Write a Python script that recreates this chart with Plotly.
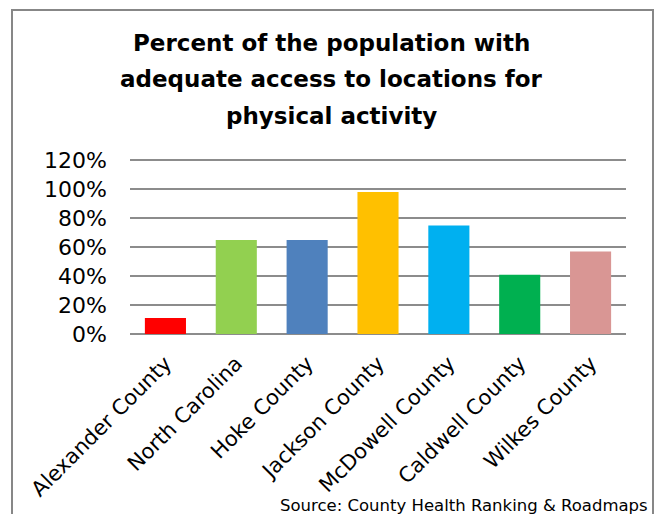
import plotly.graph_objects as go

categories = ["Alexander County", "North Carolina", "Hoke County", "Jackson County",
              "McDowell County", "Caldwell County", "Wilkes County"]
values = [0.11, 0.65, 0.65, 0.98, 0.75, 0.41, 0.57]
colors = ["#FF0000", "#92D050", "#4F81BD", "#FFC000", "#00B0F0", "#00B050", "#D99694"]
tick_vals = [0, 0.2, 0.4, 0.6, 0.8, 1.0, 1.2]
tick_text = ["0%", "20%", "40%", "60%", "80%", "100%", "120%"]
title_lines = ["Percent of the population with",
               "adequate access to locations for",
               "physical activity"]
source_text = "Source: County Health Ranking & Roadmaps"

W, H = 661, 514
L, R, T, B = 130, 35, 153, 180
pw, ph = W - L - R, H - T - B

def px(x):
    return (x - L) / pw

def py(y):
    return (H - B - y) / ph

fig = go.Figure(go.Bar(x=categories, y=values, marker=dict(color=colors, line=dict(width=0)),
                       width=0.58))

annotations = []
for line, yc in zip(title_lines, [42.5, 79, 116]):
    annotations.append(dict(text="<b>" + line + "</b>", x=px(331), y=py(yc),
                            xref="paper", yref="paper",
                            xanchor="center", yanchor="middle", showarrow=False,
                            font=dict(family="DejaVu Sans", size=23, color="#000000")))
annotations.append(dict(text=source_text, x=px(650), y=py(517), xref="paper", yref="paper",
                        xanchor="right", yanchor="bottom", showarrow=False,
                        font=dict(family="DejaVu Sans", size=16.5, color="#000000")))

fig.update_layout(
    width=W, height=H,
    margin=dict(l=L, r=R, t=T, b=B, pad=0),
    paper_bgcolor="white", plot_bgcolor="white",
    showlegend=False,
    bargap=0.42,
    annotations=annotations,
    shapes=[dict(type="rect", xref="paper", yref="paper",
                 x0=px(12), x1=px(653), y0=py(530), y1=py(10),
                 line=dict(color="#878787", width=2), fillcolor="rgba(0,0,0,0)", layer="below")],
    xaxis=dict(showgrid=False, tickangle=-45, showline=False, ticks="",
               ticklabelstandoff=12,
               tickfont=dict(family="DejaVu Sans", size=21, color="#000000")),
    yaxis=dict(range=[0, 1.25], tickvals=tick_vals, ticktext=tick_text,
               showgrid=True, gridcolor="#8C8C8C", gridwidth=2,
               zeroline=True, zerolinecolor="#8C8C8C", zerolinewidth=2,
               showline=False, ticks="", ticklabelstandoff=22,
               tickfont=dict(family="DejaVu Sans", size=22, color="#000000")),
)

fig.write_html("out.html", config={"displayModeBar": False},
               post_script="document.body.style.margin='0';document.body.style.overflow='hidden';")
